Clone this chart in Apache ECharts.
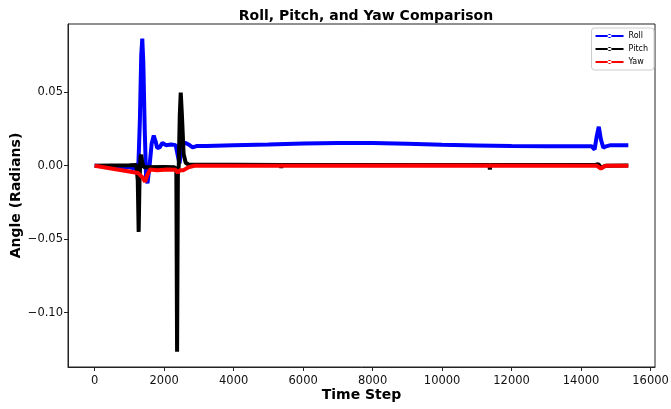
<!DOCTYPE html>
<html>
<head>
<meta charset="utf-8">
<script src="https://cdn.jsdelivr.net/npm/echarts@6/dist/echarts.min.js"></script>
<style>
  html, body { margin: 0; padding: 0; background: #fff; }
  #chart { width: 671px; height: 409px; }
</style>
</head>
<body>
<div id="chart"></div>
<script>
// Roll angle samples: time step and value (radians)
const rollT = [0, 500, 1000, 1200, 1260, 1300, 1340, 1370, 1400, 1440, 1480, 1520, 1580, 1640, 1700, 1760, 1800, 1870, 1950, 2050, 2200, 2330, 2400, 2440, 2480, 2540, 2620, 2700, 2820, 2950, 3200, 4000, 5000, 6000, 7000, 8000, 9000, 10000, 11000, 12000, 13000, 14000, 14300, 14390, 14450, 14510, 14570, 14640, 14720, 14850, 15000, 15360];
const rollV = [0, -0.0005, -0.001, -0.002, 0.002, 0.03, 0.075, 0.0865, 0.07, 0.025, -0.008, -0.012, 0.0, 0.015, 0.0205, 0.016, 0.012, 0.0125, 0.0155, 0.014, 0.0145, 0.014, 0.006, 0.0015, 0.008, 0.015, 0.0155, 0.0145, 0.0125, 0.0135, 0.0135, 0.014, 0.0145, 0.0152, 0.0155, 0.0155, 0.015, 0.0142, 0.0138, 0.0134, 0.0132, 0.0133, 0.0133, 0.011, 0.02, 0.0265, 0.018, 0.0122, 0.0132, 0.014, 0.014, 0.014];

// Pitch angle samples
const pitchT = [0, 1000, 1200, 1240, 1266, 1290, 1320, 1340, 1370, 1420, 2000, 2300, 2350, 2372, 2395, 2420, 2450, 2477, 2510, 2560, 2620, 2700, 5360, 5370, 5380, 11360, 11375, 11390, 14400, 14500, 14580, 14700, 15360];
const pitchV = [0, 0.0003, 0.0005, -0.01, -0.045, -0.01, 0.006, 0.0075, 0.002, -0.001, -0.0008, -0.001, -0.003, -0.1265, -0.005, 0.0, 0.035, 0.0497, 0.035, 0.008, 0.002, 0.0008, 0.0005, -0.0015, 0.0005, 0.0005, -0.0025, 0.0005, 0.0005, 0.001, -0.0015, 0.0, 0.0002];

// Yaw angle samples
const yawT = [0, 1250, 1300, 1380, 1450, 1520, 1600, 1800, 2100, 2330, 2390, 2450, 2560, 2700, 2870, 5000, 10000, 14450, 14570, 14650, 14750, 15360];
const yawV = [0, -0.005, -0.0055, -0.008, -0.011, -0.006, -0.0025, -0.003, -0.0025, -0.0028, -0.0048, -0.003, -0.003, -0.001, 0, 0, 0.0002, 0, -0.002, -0.0005, 0, 0];

// Tick positions
const xTicks = [0, 2000, 4000, 6000, 8000, 10000, 12000, 14000, 16000];
const yTicks = [-0.10, -0.05, 0.00, 0.05];

const pair = (t, v) => t.map((x, i) => [x, v[i]]);
const FONT = 'DejaVu Sans';
// legend glyph: a line segment with a small dot marker in the middle
const legendIcon = 'path://M0,3H28V5H0Z M12,4a2,2 0 1,0 4,0a2,2 0 1,0 -4,0Z';

const chart = echarts.init(document.getElementById('chart'), null, { renderer: 'canvas' });

const fmtY = v => (v < 0 ? '\u2212' : '') + Math.abs(v).toFixed(2);

chart.setOption({
  animation: false,
  backgroundColor: '#fff',
  title: {
    text: 'Roll, Pitch, and Yaw Comparison',
    left: 361, top: 4, textAlign: 'center',
    textStyle: { fontFamily: FONT, fontSize: 14, fontWeight: 'bold', color: '#000' }
  },
  legend: {
    orient: 'vertical',
    right: 17, top: 28,
    padding: [4, 6, 4, 4],
    itemGap: 5,
    itemWidth: 28, itemHeight: 8,
    borderColor: '#ccc', borderWidth: 1, borderRadius: 3,
    backgroundColor: '#fff',
    textStyle: { fontFamily: FONT, fontSize: 8, color: '#000' },
    data: [
      { name: 'Roll', icon: legendIcon },
      { name: 'Pitch', icon: legendIcon },
      { name: 'Yaw', icon: legendIcon }
    ]
  },
  grid: {
    left: 68, right: 16, top: 24, bottom: 42,
    outerBoundsMode: 'none',
    containLabel: false,
    show: true, borderColor: '#222', borderWidth: 1, backgroundColor: '#fff'
  },
  xAxis: {
    type: 'value',
    min: -768, max: 16128,
    name: 'Time Step', nameLocation: 'middle', nameGap: 21, nameMoveOverlap: false,
    nameTextStyle: { fontFamily: FONT, fontSize: 14, fontWeight: 'bold', color: '#000' },
    axisLine: { show: true, onZero: false, lineStyle: { color: '#222', width: 1 } },
    axisTick: { show: true, length: 4, inside: false, customValues: xTicks, lineStyle: { color: '#222' } },
    axisLabel: { customValues: xTicks, formatter: v => String(v), fontFamily: FONT, fontSize: 11.5, color: '#111', margin: 8 },
    splitLine: { show: false }
  },
  yAxis: {
    type: 'value',
    min: -0.1369, max: 0.0964,
    name: 'Angle (Radians)', nameLocation: 'middle', nameGap: 45, nameMoveOverlap: false,
    nameTextStyle: { fontFamily: FONT, fontSize: 14, fontWeight: 'bold', color: '#000' },
    axisLine: { show: true, onZero: false, lineStyle: { color: '#222', width: 1 } },
    axisTick: { show: true, length: 4, inside: false, customValues: yTicks, lineStyle: { color: '#222' } },
    axisLabel: { customValues: yTicks, formatter: fmtY, fontFamily: FONT, fontSize: 11.5, color: '#111', margin: 5 },
    splitLine: { show: false }
  },
  series: [
    { name: 'Roll', type: 'line', data: pair(rollT, rollV), showSymbol: false, color: '#0000ff',
      lineStyle: { width: 4, color: '#0000ff' }, z: 2 },
    { name: 'Pitch', type: 'line', data: pair(pitchT, pitchV), showSymbol: false, color: '#000000',
      lineStyle: { width: 4, color: '#000000' }, z: 3 },
    { name: 'Yaw', type: 'line', data: pair(yawT, yawV), showSymbol: false, color: '#ff0000',
      lineStyle: { width: 4, color: '#ff0000' }, z: 4 }
  ]
});
</script>
</body>
</html>
